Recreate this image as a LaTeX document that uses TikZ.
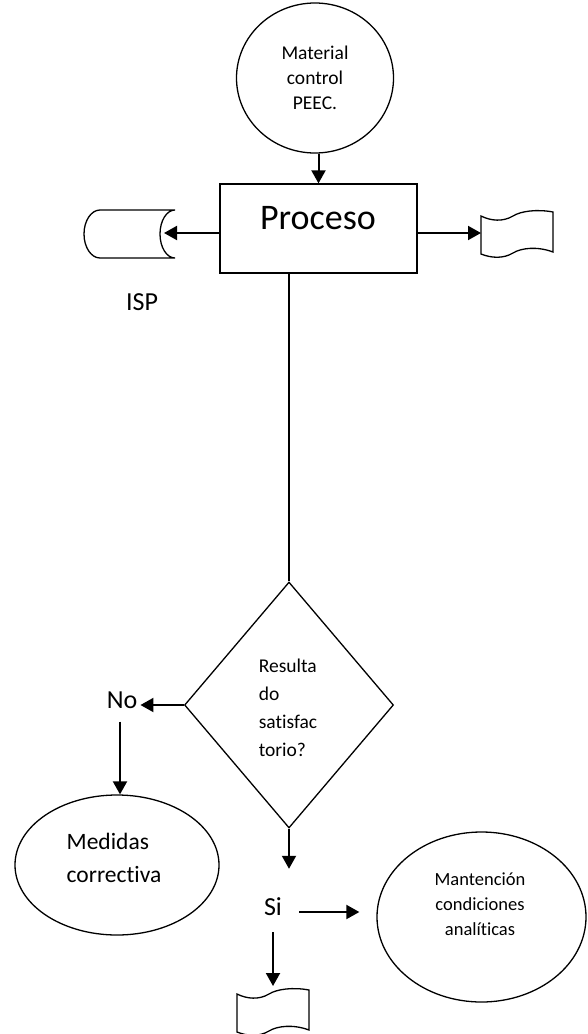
\documentclass[tikz,border=0pt]{standalone}
\usepackage{fontspec}
\setmainfont{Carlito}[Ligatures={NoCommon,NoContextual}]
\usetikzlibrary{shapes.geometric,arrows.meta}
\begin{document}
\begin{tikzpicture}[x=1pt,y=-1pt,
  outline/.style={draw, line width=1.3pt, inner sep=0pt},
  oval/.style={outline, ellipse},
  arr/.style={line width=2pt, -{Triangle[length=13pt,width=14pt]}},
  lbl/.style={inner sep=0pt, font=\fontsize{26}{30}\selectfont},
  txt/.style={inner sep=0pt},
  % punched-tape document symbol, 72 wide
  tape/.pic={
    \draw[line width=1.3pt, fill=white]
      (-36,-17) .. controls (-26,-12) and (-14,-11) .. (-4,-17)
      .. controls (4,-22) and (20,-24) .. (36,-21)
      -- (36,19) .. controls (20,13) and (4,15) .. (-4,20)
      .. controls (-14,26) and (-26,25) .. (-36,21) -- cycle;
    \coordinate (-w) at (-36,0);
    \coordinate (-n) at (0,-25);
  },
  % stored-data symbol (convex left end, concave right end)
  stored/.pic={
    \draw[line width=1.3pt, fill=white]
      (-30,-24) -- (45,-24)
      .. controls (36.7,-24) and (30,-13.3) .. (30,0)
      .. controls (30,13.3) and (36.7,24) .. (45,24)
      -- (-30,24)
      .. controls (-38.8,24) and (-46,13.3) .. (-46,0)
      .. controls (-46,-13.3) and (-38.8,-24) .. (-30,-24) -- cycle;
    \coordinate (-in) at (34,-1);
  }
]
\useasboundingbox (0,0) rectangle (587,1034);

% shapes
\node[oval, minimum width=157pt, minimum height=150pt] (mat) at (315,78) {};
\node[txt, align=center, font=\fontsize{19.5}{25}\selectfont] (matt) at (315,78)
  {Material\\control\\PEEC.};

\node[outline, rectangle, minimum width=197pt, minimum height=89pt] (proc) at (318.5,228.5) {};
\node[txt, font=\fontsize{36}{40}\selectfont] (proct) at (318,218.5) {Proceso};

\pic (isp) at (130,234) {stored};
\node[lbl] (ispt) at (142,302) {ISP};

\pic (docR) at (517,233) {tape};

\node[outline, diamond, minimum width=209pt, minimum height=246pt] (dec) at (289,705) {};
\node[txt, align=left, font=\fontsize{19.5}{28}\selectfont] (dect) at (288,708)
  {Resulta\\do\\satisfac\\torio?};

\node[lbl] (no) at (122,700) {No};
\node[oval, minimum width=204pt, minimum height=140pt] (med) at (117,865) {};
\node[txt, align=left, font=\fontsize{23.5}{33.5}\selectfont] (medt) at (114,858)
  {Medidas\\correctiva};

\node[lbl] (si) at (273,907) {Si};
\node[oval, minimum width=209pt, minimum height=170pt] (man) at (481.5,917) {};
\node[txt, align=center, font=\fontsize{18.5}{25}\selectfont] (mant) at (480,904)
  {Mantención\\condiciones\\analíticas};

\pic (docB) at (273,1011) {tape};

% connectors
\draw[arr] (mat.south -| proc.north) -- (proc.north);
\draw[arr] (proc.west |- isp-in) -- (isp-in);
\draw[arr] (proc.east |- docR-w) -- (docR-w);
\draw[line width=1.3pt] (proc.south -| dec.north) -- (dec.north);
\draw[arr, shorten >=3pt] (dec.west) -- (no.east |- dec.west);
\draw[arr, shorten <=13pt] (no.south -| 120,0) -- (120,0 |- med.north);
\draw[arr, shorten >=29pt] (dec.south) -- (dec.south |- si.north);
\draw[arr, shorten <=17pt, shorten >=17pt] (si.east |- 0,912) -- (man.west |- 0,912);
\draw[arr, shorten <=16pt] (si.south -| docB-n) -- (docB-n);
\end{tikzpicture}
\end{document}
